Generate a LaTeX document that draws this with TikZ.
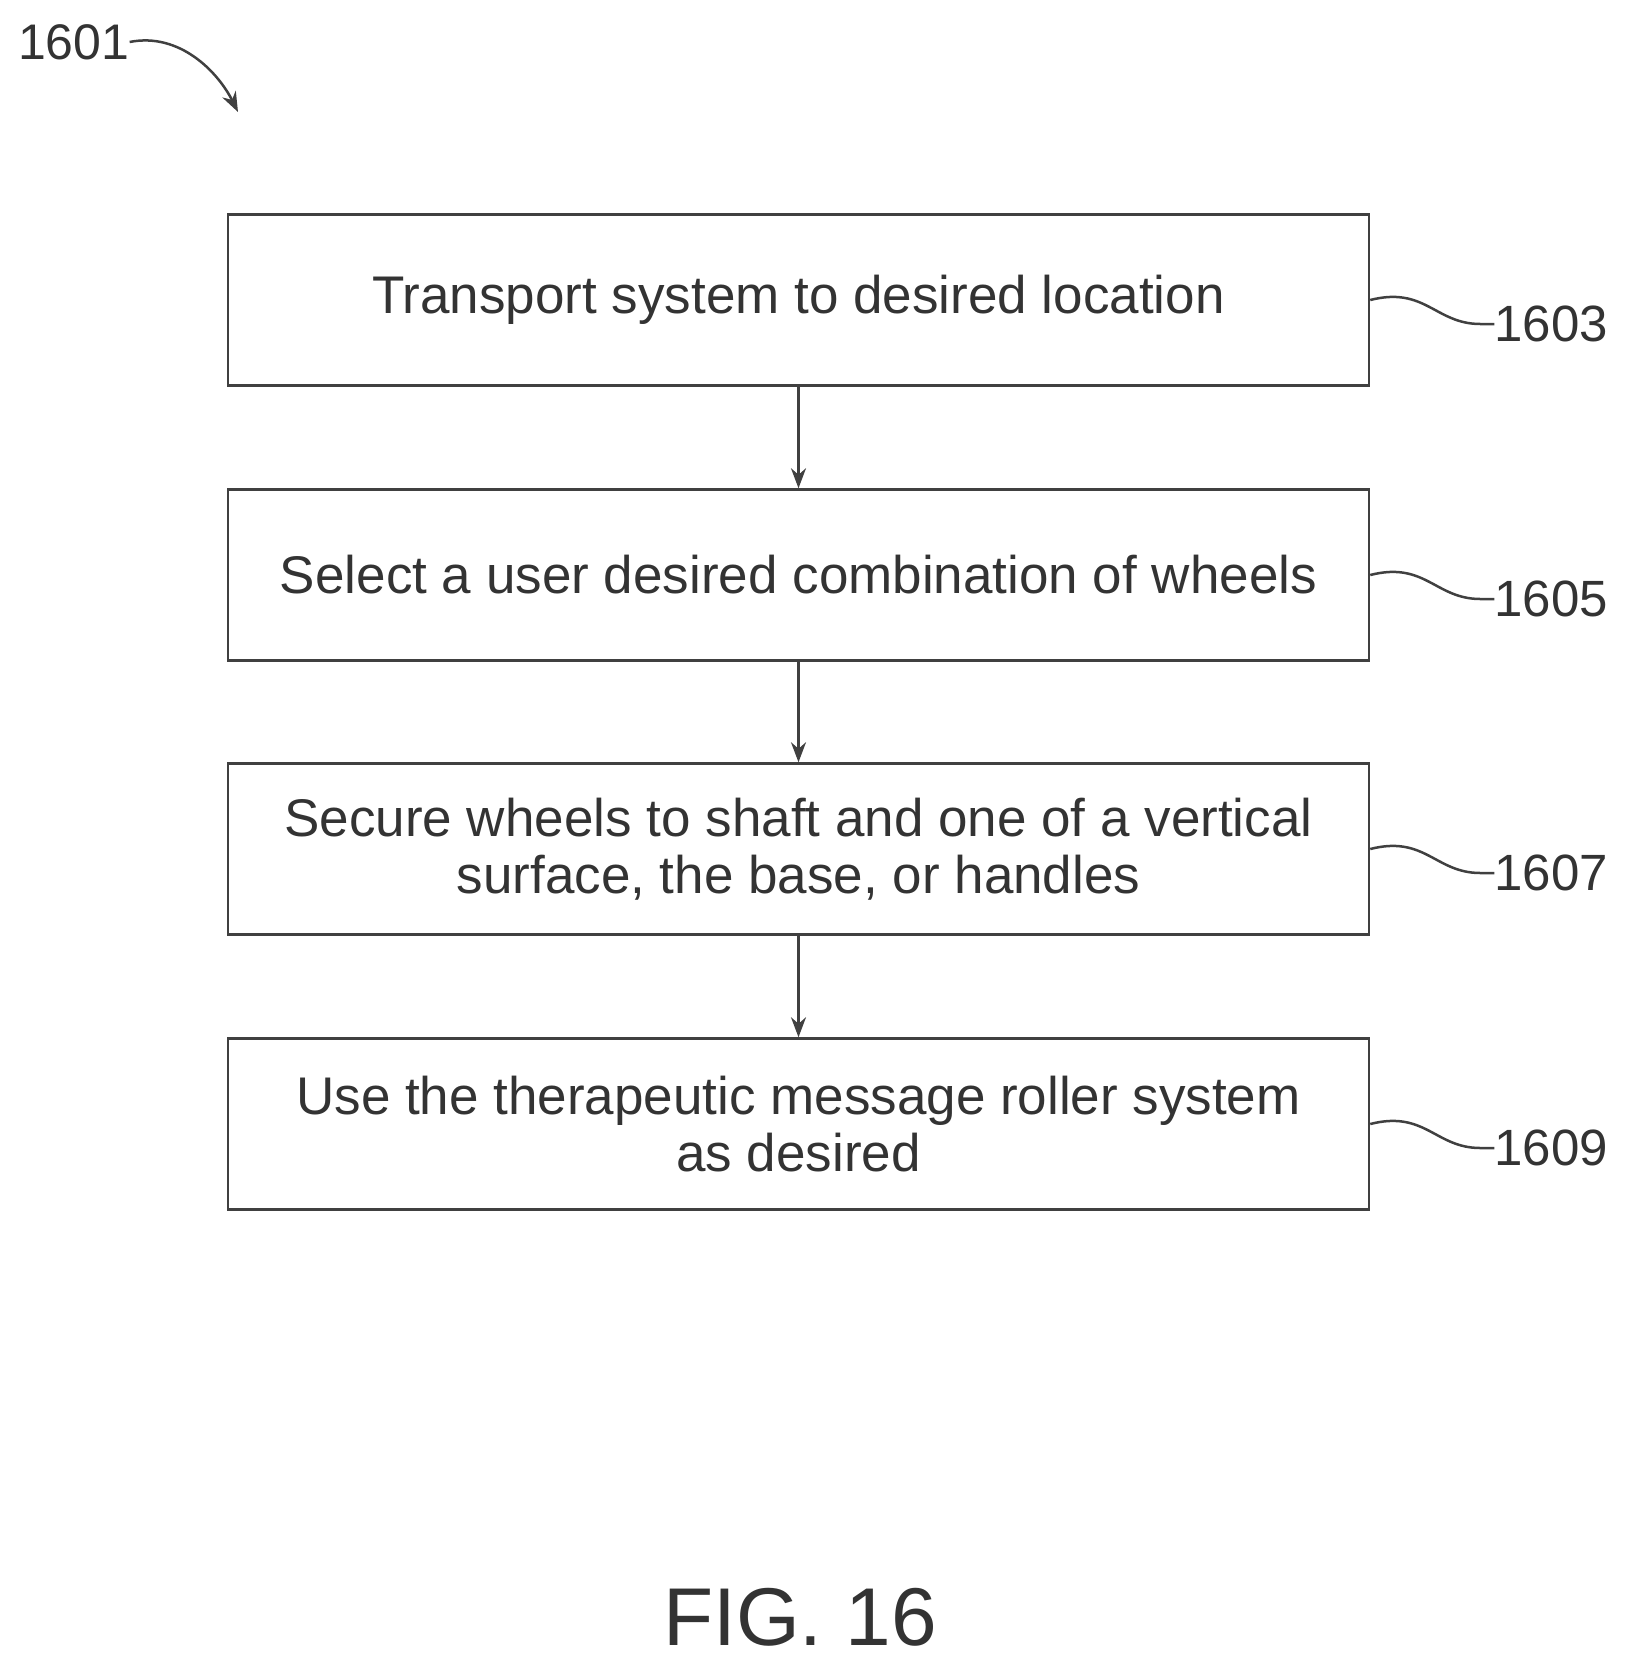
\documentclass[tikz,border=0pt]{standalone}
\usepackage{fontspec}
\setmainfont{Liberation Sans}
\usetikzlibrary{arrows.meta}
\begin{document}
\begin{tikzpicture}[x=1pt,y=-1pt,
  box/.style={draw=black!75,line width=2.5pt,minimum width=1141pt,minimum height=171pt,align=center,font=\fontsize{53}{57}\selectfont,text=black!80,inner sep=0pt},
  lab/.style={font=\fontsize{51}{51}\selectfont,text=black!80,anchor=west,inner sep=0pt},
  con/.style={draw=black!75,line width=2.5pt},
  arr/.style={con,-{Stealth[length=20pt,width=15pt]}}]
\useasboundingbox (0,0) rectangle (1630,1665);
\node[box] (b1) at (798.5,300) {Transport system to desired location};
\node[box] (b2) at (798.5,575) {Select a user desired combination of wheels};
\node[box] (b3) at (798.5,849) {Secure wheels to shaft and one of a vertical\\surface, the base, or handles};
\node[box] (b4) at (798.5,1124) {Use the therapeutic message roller system\\as desired};
\draw[arr] (b1) -- (b2);
\draw[arr] (b2) -- (b3);
\draw[arr] (b3) -- (b4);
\foreach \i/\n in {1/1603,2/1605,3/1607,4/1609}{
  \node[lab] (l\i) at ([xshift=124pt,yshift=-24pt]b\i.east) {\n};
  \draw[con] (b\i.east) .. controls +(55,-14) and +(-45,0) .. ([xshift=-14pt]l\i.west) -- (l\i.west);
}
\node[font=\fontsize{50}{50}\selectfont,text=black!80,inner sep=0pt,anchor=west] (top) at (18,42) {1601};
\coordinate (tip) at (238,112);
\draw[arr] (top.east) .. controls +(50,-10) and +(-20,-40) .. (tip);
\node[font=\fontsize{82}{82}\selectfont,text=black!80] (fig) at (800,1617) {FIG. 16};
\end{tikzpicture}
\end{document}
